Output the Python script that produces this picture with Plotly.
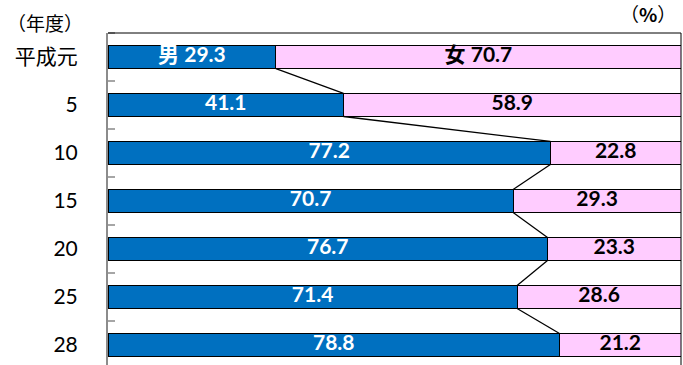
import plotly.graph_objects as go

# 年度別 男女比率 (%)
years = ["平成元", "5", "10", "15", "20", "25", "28"]
male = [29.3, 41.1, 77.2, 70.7, 76.7, 71.4, 78.8]
female = [70.7, 58.9, 22.8, 29.3, 23.3, 28.6, 21.2]

BLUE = "#0070C0"
PINK = "#FFCCFF"
FONT = "Lato, Noto Sans CJK JP, sans-serif"
JFONT = "Noto Sans CJK JP, sans-serif"
half = 0.24  # half bar thickness in axis units

pos = list(range(len(years)))

fig = go.Figure()
fig.add_trace(go.Bar(y=pos, x=male, orientation="h", width=2 * half,
                     marker=dict(color=BLUE, line=dict(color="black", width=1)),
                     hoverinfo="skip"))
fig.add_trace(go.Bar(y=pos, x=female, orientation="h", width=2 * half,
                     marker=dict(color=PINK, line=dict(color="black", width=1)),
                     hoverinfo="skip"))

# series lines between male/female boundaries
lx, ly = [], []
for i in range(len(male) - 1):
    lx += [male[i], male[i + 1], None]
    ly += [i + half, i + 1 - half, None]
fig.add_trace(go.Scatter(x=lx, y=ly, mode="lines",
                         line=dict(color="black", width=1.3), hoverinfo="skip"))

# labels
male_txt = [("男 " if i == 0 else "") + f"{v:.1f}" for i, v in enumerate(male)]
female_txt = [("女 " if i == 0 else "") + f"{v:.1f}" for i, v in enumerate(female)]
fig.add_trace(go.Scatter(x=[m / 2 for m in male], y=pos, mode="text", text=male_txt,
                         textfont=dict(family=FONT, size=21, color="white", weight="bold"),
                         hoverinfo="skip"))
fig.add_trace(go.Scatter(x=[m + f / 2 for m, f in zip(male, female)], y=pos, mode="text",
                         text=female_txt,
                         textfont=dict(family=FONT, size=21, color="black", weight="bold"),
                         hoverinfo="skip"))

fig.update_layout(
    width=683, height=365,
    margin=dict(l=108, r=2, t=33, b=0, autoexpand=False),
    barmode="stack",
    showlegend=False,
    plot_bgcolor="white", paper_bgcolor="white",
    xaxis=dict(range=[0, 100], showgrid=False, zeroline=False, showticklabels=False,
               ticks="", automargin=False),
    yaxis=dict(range=[6.417, -0.5], tickvals=pos, ticktext=years, ticks="",
               showgrid=False, zeroline=False, automargin=False,
               showline=True, linecolor="#8C8C8C", linewidth=2,
               ticklabelstandoff=24,
               tickfont=dict(family=FONT, size=21, color="black"),
               minor=dict(tickvals=[p - 0.5 for p in pos], ticks="inside", ticklen=7,
                          tickcolor="#A6A6A6", tickwidth=1.5, showgrid=False)),
    shapes=[
        dict(type="line", xref="paper", yref="paper", x0=0, x1=1, y0=1, y1=1,
             line=dict(color="black", width=1)),
        dict(type="line", xref="paper", yref="paper", x0=1, x1=1, y0=0, y1=1,
             line=dict(color="black", width=1)),
    ],
    annotations=[
        dict(text="（年度）", xref="paper", yref="paper", x=-0.11, y=1.033,
             xanchor="center", yanchor="middle", showarrow=False,
             font=dict(family=JFONT, size=19, color="black")),
        dict(text="（<b>%</b>）", xref="paper", yref="paper", x=0.942, y=1.058,
             xanchor="center", yanchor="middle", showarrow=False,
             font=dict(family=JFONT, size=19, color="black")),
    ],
)

# drop the default 8px body margin so the figure fills the window
fig.write_html("out.html", config={"displayModeBar": False},
               post_script="document.body.style.margin='0px';")
